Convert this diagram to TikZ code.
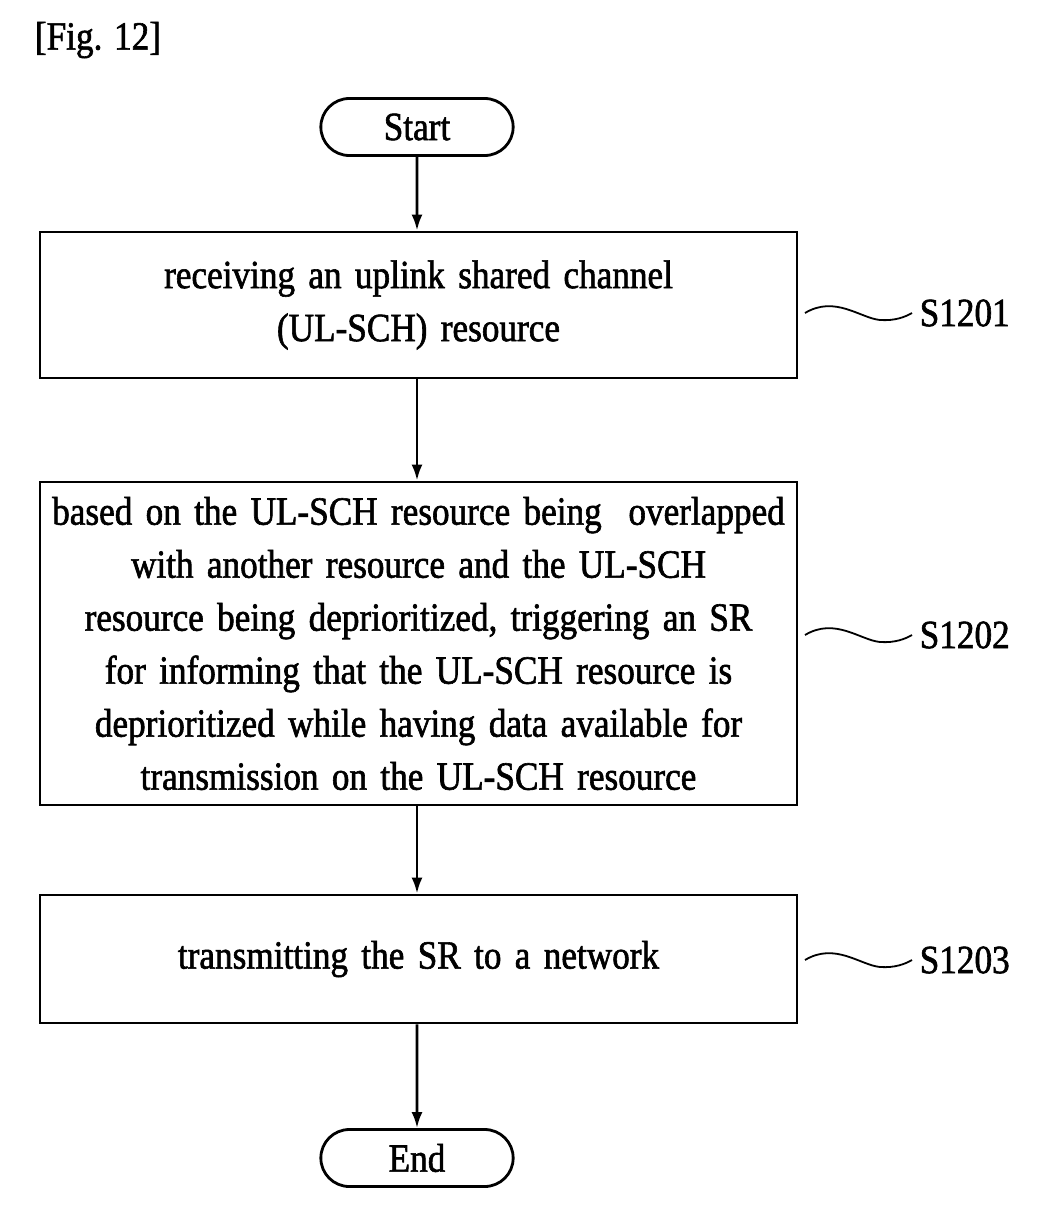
\documentclass[tikz,border=0pt]{standalone}
\usepackage{fontspec}
\setmainfont{Liberation Serif}
\newfontfamily\figfont[FakeStretch=0.88,FakeBold=1.5]{Liberation Serif}
\usetikzlibrary{shapes.misc,arrows.meta}
\tikzset{>={Latex[length=16pt,width=11pt]},
  every path/.style={line width=2.8pt},
  stepbox/.style={draw,line width=2.8pt,minimum width=757pt,align=center,inner sep=0pt,
    font=\figfont\fontsize{40}{53}\selectfont,text width=757pt},
  term/.style={draw,line width=2.8pt,rounded rectangle,minimum width=199pt,minimum height=57pt,
    font=\figfont\fontsize{40}{53}\selectfont},
  lbl/.style={font=\figfont\fontsize{40}{53}\selectfont,anchor=west},
  wave/.style={line width=1.8pt}
}
\begin{document}
\begin{tikzpicture}[x=1pt,y=-1pt]
  \useasboundingbox (0,0) rectangle (1041,1210);
  \node[font=\figfont\fontsize{40}{53}\selectfont] (fig) at (98,40) {[Fig. 12]};
  \node[term] (start) at (417,127) {Start};
  \node[stepbox,minimum height=146pt] (s1) at (418.5,305) {receiving an uplink shared channel\\(UL-SCH) resource};
  \node[stepbox,minimum height=323pt] (s2) at (418.5,643.5) {based on the UL-SCH resource being\ \ overlapped\\with another resource and the UL-SCH\\resource being deprioritized, triggering an SR\\for informing that the UL-SCH resource is\\deprioritized while having data available for\\transmission on the UL-SCH resource};
  \node[stepbox,minimum height=128pt] (s3) at (418.5,959) {transmitting the SR to a network};
  \node[term] (end) at (417,1158) {End};
  \draw[->] (start) -- (start|-s1.north);
  \draw[->] (start|-s1.south) -- (start|-s2.north);
  \draw[->] (start|-s2.south) -- (start|-s3.north);
  \draw[->] (start|-s3.south) -- (end);
  \node[lbl] (l1) at (915,313) {S1201};
  \node[lbl] (l2) at (915,635) {S1202};
  \node[lbl] (l3) at (915,960) {S1203};
  \draw[wave] (805,313) .. controls (835,295) and (860,318) .. (880,320) .. controls (895,321) and (905,317) .. (912,313);
  \draw[wave] (805,635) .. controls (835,617) and (860,640) .. (880,642) .. controls (895,643) and (905,639) .. (912,635);
  \draw[wave] (805,960) .. controls (835,942) and (860,965) .. (880,967) .. controls (895,968) and (905,964) .. (912,960);
\end{tikzpicture}
\end{document}
